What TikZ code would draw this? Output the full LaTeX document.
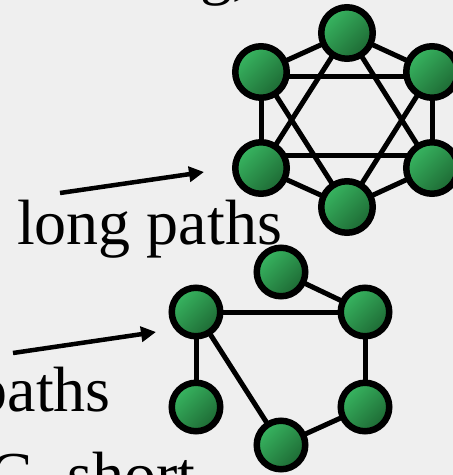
\documentclass[tikz,border=0pt]{standalone}
\usepackage{fontspec}
\setmainfont{Liberation Serif}
\usetikzlibrary{arrows.meta}
\definecolor{bg}{HTML}{EFEFEF}
\definecolor{gdark}{HTML}{1D6833}
\definecolor{glight}{HTML}{38B661}
\pgfdeclarelayer{back}
\pgfdeclarelayer{edges}
\pgfsetlayers{back,edges,main}
\begin{document}
\begin{tikzpicture}[x=1pt,y=-1pt,
  vtx/.style={circle,draw=black,line width=6.5pt,left color=glight,right color=gdark,shading angle=45,minimum size=51.5pt,inner sep=0pt},
  vtxs/.style={vtx,minimum size=48.5pt},
  edge/.style={line width=5pt,black},
  pointer/.style={line width=4.5pt,-{Triangle[length=15pt,width=15pt]}},
  lbl/.style={inner sep=0pt,font=\fontsize{64}{64}\selectfont}]
\begin{pgfonlayer}{back}
\fill[bg] (0,0) rectangle (453,475);
\end{pgfonlayer}
\useasboundingbox (0,0) rectangle (453,475);
\clip (0,0) rectangle (453,475);
% top graph
\node[vtx] (t)  at (347,33)  {};
\node[vtx] (ul) at (261,72)  {};
\node[vtx] (ur) at (432,72)  {};
\node[vtx] (ll) at (261,168) {};
\node[vtx] (lr) at (432,168) {};
\node[vtx] (b)  at (347,207) {};
\begin{pgfonlayer}{edges}
\draw[edge] (t.center) -- (ul.center);
\draw[edge] (t.center) -- (ur.center);
\draw[edge] (ul.center) -- (ll.center);
\draw[edge] (ur.center) -- (lr.center);
\draw[edge] (ll.center) -- (b.center);
\draw[edge] (lr.center) -- (b.center);
\draw[edge] (t.center) -- (ll.center);
\draw[edge] (t.center) -- (lr.center);
\draw[edge] (ul.center) -- (b.center);
\draw[edge] (ur.center) -- (b.center);
\draw[edge] ([yshift=-4pt]ul.center) -- ([yshift=-4pt]ur.center);
\draw[edge] ([yshift=13pt]ll.center) -- ([yshift=13pt]lr.center);
\end{pgfonlayer}
% bottom graph
\node[vtxs] (s)  at (281,272) {};
\node[vtxs] (l)  at (196,312) {};
\node[vtxs] (ru) at (365,312) {};
\node[vtxs] (lb) at (196,407) {};
\node[vtxs] (rl) at (365,407) {};
\node[vtxs] (bb) at (281,445) {};
\begin{pgfonlayer}{edges}
\draw[edge] (s.center) -- (ru.center);
\draw[edge] (l.center) -- (ru.center);
\draw[edge] (l.center) -- (lb.center);
\draw[edge] (l.center) -- (bb.center);
\draw[edge] (ru.center) -- (rl.center);
\draw[edge] (rl.center) -- (bb.center);
\end{pgfonlayer}
% texts
\node[lbl,anchor=base east] (topt) at (249,-8) {ng,};
\node[lbl,anchor=base west] (lp) at (17,244) {long paths};
\node[lbl,anchor=base east] (sp) at (111,411) {paths};
\node[lbl,anchor=base west] (gs) at (-11,496) {G, short};
% arrows
\coordinate (a1s) at (60,193);
\coordinate (a1e) at (204,172);
\draw[pointer] (a1s) -- (a1e);
\coordinate (a2s) at (13,353);
\coordinate (a2e) at (156,332);
\draw[pointer] (a2s) -- (a2e);
\end{tikzpicture}
\end{document}
